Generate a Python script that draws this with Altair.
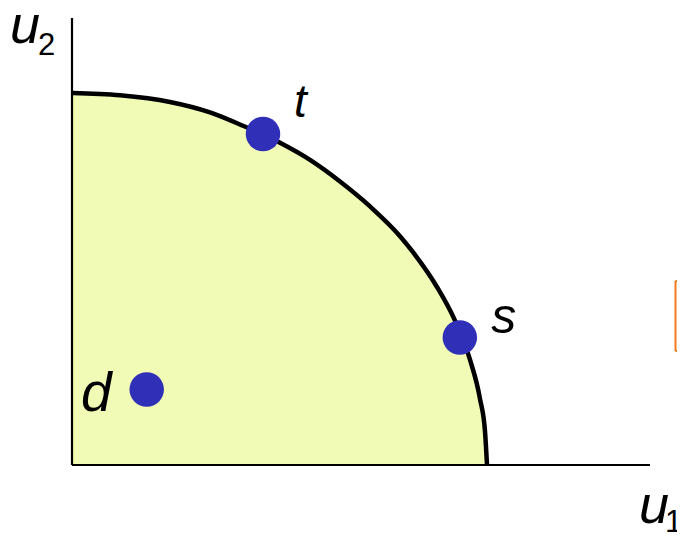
import altair as alt
import pandas as pd

# Frontier curve points (u1, u2)
curve_u1 = [0.0, 0.1157, 0.2361, 0.3325, 0.4120, 0.5012, 0.5735, 0.6458, 0.7181,
            0.7904, 0.8217, 0.8795, 0.9229, 0.9590, 0.9831, 0.9952, 1.0]
curve_u2 = [1.0, 0.9940, 0.9760, 0.9480, 0.9120, 0.8660, 0.8200, 0.7620, 0.6950,
            0.6150, 0.5720, 0.4785, 0.3880, 0.2830, 0.1780, 0.0900, 0.0]

# Points
pt_names = ["t", "s", "d"]
pt_u1 = [0.4602, 0.9345, 0.180]
pt_u2 = [0.8898, 0.3427, 0.203]

# Point labels
lab_text = ["t", "s", "d"]
lab_u1 = [0.5350, 1.0100, 0.0217]
lab_u2 = [0.9355, 0.3548, 0.1452]
lab_size = [46, 50, 55]

# Axis labels (main letter + subscript)
ax_text = ["u", "2", "u", "1"]
ax_u1 = [-0.1494, -0.0819, 1.3660, 1.4290]
ax_u2 = [1.1344, 1.1022, -0.1559, -0.180]
ax_size = [54, 31, 54, 31]
ax_style = ["italic", "normal", "italic", "normal"]

# Axis extents
x_axis_end = 1.3928
y_axis_end = 1.2016

# Orange bracket (partially visible at right edge)
br_x = [1.4542, 1.4542, 1.4542]
br_x2 = [1.4542, 1.4580, 1.4580]
br_y = [0.3065, 0.4946, 0.3065]
br_y2 = [0.4946, 0.4946, 0.3065]

xs = alt.Scale(domain=[-0.15422, 1.45783], nice=False, zero=False)
ys = alt.Scale(domain=[-0.19086, 1.2285], nice=False, zero=False)

curve = pd.DataFrame({"u1": curve_u1, "u2": curve_u2,
                      "base": [0.0] * len(curve_u1)})
pts = pd.DataFrame({"name": pt_names, "u1": pt_u1, "u2": pt_u2})
labs = pd.DataFrame({"text": lab_text, "u1": lab_u1, "u2": lab_u2, "size": lab_size})
axl = pd.DataFrame({"text": ax_text, "u1": ax_u1, "u2": ax_u2, "size": ax_size, "style": ax_style})
axes = pd.DataFrame({"x": [0, 0], "x2": [x_axis_end, 0], "y": [0, 0], "y2": [0, y_axis_end]})
br = pd.DataFrame({"x": br_x, "x2": br_x2, "y": br_y, "y2": br_y2})

X = lambda f: alt.X(f, type="quantitative", scale=xs, axis=None)
Y = lambda f: alt.Y(f, type="quantitative", scale=ys, axis=None)

area = alt.Chart(curve).mark_area(color="#F2FBB6", opacity=1, interpolate="monotone").encode(
    x=X("u1"), y=Y("u2"), y2="base")
line = alt.Chart(curve).mark_line(color="black", strokeWidth=4.5, interpolate="monotone").encode(
    x=X("u1"), y=Y("u2"))
axis_rules = alt.Chart(axes).mark_rule(color="black", strokeWidth=2.2).encode(
    x=X("x"), x2="x2", y=Y("y"), y2="y2")
bracket = alt.Chart(br).mark_rule(color="#F47A20", strokeWidth=2).encode(
    x=X("x"), x2="x2", y=Y("y"), y2="y2")
points = alt.Chart(pts).mark_point(filled=True, shape="circle", size=1190,
                                   color="#2F2FB7", opacity=1).encode(
    x=X("u1"), y=Y("u2"))
labels = alt.Chart(labs).mark_text(align="left", baseline="alphabetic",
                                   font="Liberation Sans", fontStyle="italic",
                                   color="black").encode(
    x=X("u1"), y=Y("u2"), text="text:N",
    size=alt.Size("size:Q", scale=None, legend=None))
axis_labels_i = alt.Chart(axl[axl["style"] == "italic"]).mark_text(
    align="left", baseline="alphabetic", font="Liberation Sans",
    fontStyle="italic", color="black").encode(
    x=X("u1"), y=Y("u2"), text="text:N",
    size=alt.Size("size:Q", scale=None, legend=None))
axis_labels_n = alt.Chart(axl[axl["style"] == "normal"]).mark_text(
    align="left", baseline="alphabetic", font="Liberation Sans",
    color="black").encode(
    x=X("u1"), y=Y("u2"), text="text:N",
    size=alt.Size("size:Q", scale=None, legend=None))

chart = alt.layer(area, line, axis_rules, bracket, points, labels,
                  axis_labels_i, axis_labels_n).properties(
    width=669, height=528, padding=0,
    autosize=alt.AutoSizeParams(type="none"),
    background="white",
).configure_view(strokeWidth=0)

chart.save("out.html", embed_options={"renderer": "svg", "actions": False})
